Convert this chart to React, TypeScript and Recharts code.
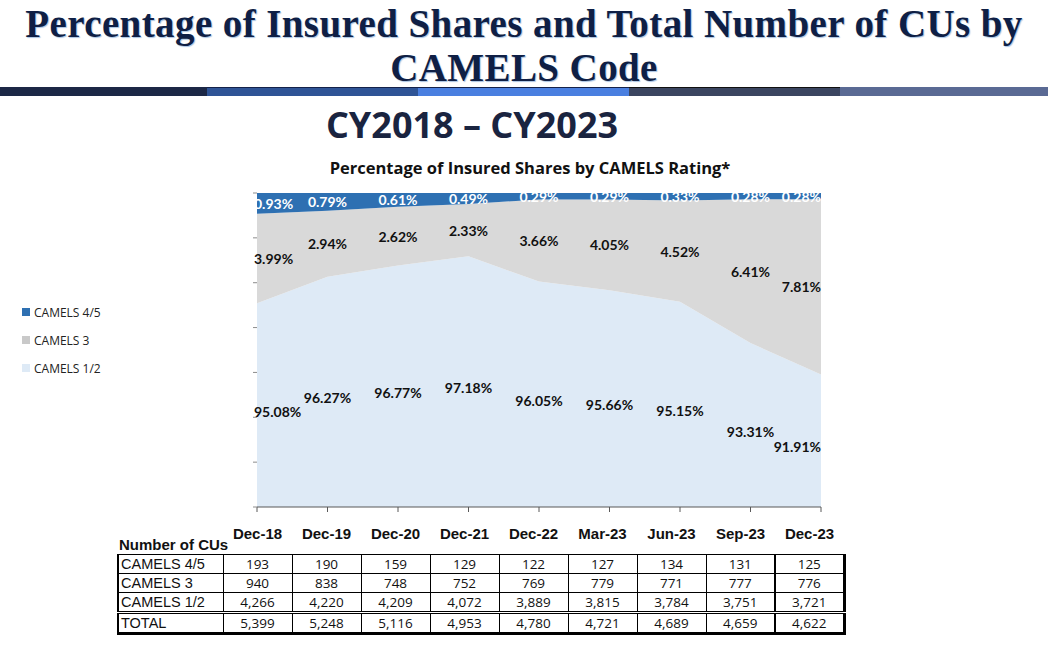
import React from 'react';
import { AreaChart, Area, XAxis, YAxis, Legend, LabelList } from 'recharts';

const periods = ['Dec-18', 'Dec-19', 'Dec-20', 'Dec-21', 'Dec-22', 'Mar-23', 'Jun-23', 'Sep-23', 'Dec-23'];

// share of insured shares, percent
const camels12Pct = [95.08, 96.27, 96.77, 97.18, 96.05, 95.66, 95.15, 93.31, 91.91];
const camels3Pct = [3.99, 2.94, 2.62, 2.33, 3.66, 4.05, 4.52, 6.41, 7.81];
const camels45Pct = [0.93, 0.79, 0.61, 0.49, 0.29, 0.29, 0.33, 0.28, 0.28];

const yTicks = [86, 88, 90, 92, 94, 96, 98, 100];

// number of credit unions
const cu45 = [193, 190, 159, 129, 122, 127, 134, 131, 125];
const cu3 = [940, 838, 748, 752, 769, 779, 771, 777, 776];
const cu12 = [4266, 4220, 4209, 4072, 3889, 3815, 3784, 3751, 3721];
const cuTotal = [5399, 5248, 5116, 4953, 4780, 4721, 4689, 4659, 4622];

const tableRows = [
  { label: 'CAMELS 4/5', values: cu45 },
  { label: 'CAMELS 3', values: cu3 },
  { label: 'CAMELS 1/2', values: cu12 },
  { label: 'TOTAL', values: cuTotal },
];

const chartData = periods.map((p, i) => ({
  period: p,
  c12: camels12Pct[i],
  c3: camels3Pct[i],
  c45: camels45Pct[i],
}));

const COLORS = { c45: '#2e70b2', c3: '#d9d9d9', c12: '#deeaf6' };

const Y_MIN = 86;
const Y_MAX = 100;
const CHART_W = 850;
const CHART_H = 337;
const MARGIN = { top: 10, right: 29, bottom: 3, left: 247 };
const X_AXIS_H = 10;
const PLOT_H = CHART_H - MARGIN.top - MARGIN.bottom - X_AXIS_H;
const PX_PER_UNIT = PLOT_H / (Y_MAX - Y_MIN);

const fmt = (n: number) => n.toLocaleString('en-US');
const noTick = () => <g />;

// label in the middle of each band; edge labels pulled inside like Excel does
const makeLabel = (values: number[], color: string, floor: number, nudge = 0) => (props: any) => {
  const { x, y, index } = props;
  const v = values[index];
  const band = (v - floor) * PX_PER_UNIT;
  const last = values.length - 1;
  const anchor = index === 0 ? 'start' : index === last ? 'end' : 'middle';
  const dx = index === 0 ? -3 : 0;
  return (
    <text
      x={x + dx}
      y={y + band / 2 + nudge}
      textAnchor={anchor}
      dominantBaseline="central"
      fill={color}
      fontSize={14}
      fontWeight={700}
      fontFamily="Lato, 'Open Sans', sans-serif"
    >
      {v.toFixed(2)}%
    </text>
  );
};

const legendItems = [
  { name: 'CAMELS 4/5', color: COLORS.c45 },
  { name: 'CAMELS 3', color: '#c9c9c9' },
  { name: 'CAMELS 1/2', color: COLORS.c12 },
];

const renderLegend = () => (
  <div>
    {legendItems.map((it) => (
      <div key={it.name} style={{ display: 'flex', alignItems: 'center', height: 28 }}>
        <span style={{ width: 8, height: 8, background: it.color, marginRight: 4, display: 'inline-block' }} />
        <span style={{ fontFamily: "'Open Sans', sans-serif", fontSize: 12, color: '#222' }}>{it.name}</span>
      </div>
    ))}
  </div>
);

const cellBase: React.CSSProperties = {
  border: '1px solid #000',
  padding: 0,
  height: 18,
  fontFamily: "'Open Sans', sans-serif",
  fontSize: 13.5,
  textAlign: 'center',
  color: '#111',
};

export default function App() {
  return (
    <div style={{ position: 'absolute', left: 0, top: 0, width: 1048, height: 647, background: '#fff', overflow: 'hidden' }}>
      <div
        style={{
          position: 'absolute',
          left: 0,
          top: 2,
          width: 1048,
          textAlign: 'center',
          fontFamily: "'Liberation Serif', serif",
          fontWeight: 700,
          fontSize: 39,
          letterSpacing: 0.4,
          lineHeight: '44px',
          color: '#0f1f45',
          textShadow: '1px 1px 1px #a8c3e2',
        }}
      >
        Percentage of Insured Shares and Total Number of CUs by
        <br />
        CAMELS Code
      </div>

      <div style={{ position: 'absolute', left: 0, top: 87, width: 1048, height: 9, display: 'flex' }}>
        <div style={{ width: 207, background: '#1c2846' }} />
        <div style={{ width: 211, background: '#2f5496', borderTop: '1px solid #14224a' }} />
        <div style={{ width: 211, background: '#4a7fe0', borderTop: '1px solid #14224a' }} />
        <div style={{ width: 211, background: '#3b4560', borderTop: '1px solid #111' }} />
        <div style={{ width: 208, background: '#5a6a94' }} />
      </div>

      <div
        style={{
          position: 'absolute',
          left: 272,
          top: 100,
          width: 400,
          textAlign: 'center',
          fontFamily: "'Open Sans', sans-serif",
          fontWeight: 700,
          fontSize: 36,
          lineHeight: '50px',
          color: '#1a2440',
        }}
      >
        CY2018 – CY2023
      </div>

      <div
        style={{
          position: 'absolute',
          left: 280,
          top: 156,
          width: 500,
          textAlign: 'center',
          fontFamily: "'Open Sans', sans-serif",
          fontWeight: 700,
          fontSize: 16.5,
          lineHeight: '24px',
          color: '#111',
        }}
      >
        Percentage of Insured Shares by CAMELS Rating*
      </div>

      <div style={{ position: 'absolute', left: 0, top: 183 }}>
        <AreaChart width={CHART_W} height={CHART_H} data={chartData} margin={MARGIN}>
          <Legend
            layout="horizontal"
            verticalAlign="middle"
            align="center"
            content={renderLegend}
            wrapperStyle={{ left: 22, top: 115, width: 120, height: 90 }}
          />
          <Area
            type="linear"
            dataKey="c12"
            name="CAMELS 1/2"
            stackId="s"
            stroke="none"
            fill={COLORS.c12}
            fillOpacity={1}
            isAnimationActive={false}
          >
            <LabelList dataKey="c12" content={makeLabel(camels12Pct, '#111', Y_MIN, 6)} />
          </Area>
          <Area
            type="linear"
            dataKey="c3"
            name="CAMELS 3"
            stackId="s"
            stroke="none"
            fill={COLORS.c3}
            fillOpacity={1}
            isAnimationActive={false}
          >
            <LabelList dataKey="c3" content={makeLabel(camels3Pct, '#111', 0)} />
          </Area>
          <Area
            type="linear"
            dataKey="c45"
            name="CAMELS 4/5"
            stackId="s"
            stroke="none"
            fill={COLORS.c45}
            fillOpacity={1}
            isAnimationActive={false}
          >
            <LabelList dataKey="c45" content={makeLabel(camels45Pct, '#fff', 0)} />
          </Area>
          <XAxis
            dataKey="period"
            tick={noTick}
            height={X_AXIS_H}
            tickSize={5}
            axisLine={{ stroke: '#595959' }}
            tickLine={{ stroke: '#595959' }}
          />
          <YAxis
            type="number"
            domain={[Y_MIN, Y_MAX]}
            allowDataOverflow
            ticks={yTicks}
            tick={noTick}
            width={10}
            tickSize={4}
            axisLine={false}
            tickLine={{ stroke: '#8c8c8c' }}
          />
        </AreaChart>
      </div>

      <table
        style={{
          position: 'absolute',
          left: 117,
          top: 522,
          width: 728,
          borderCollapse: 'collapse',
          tableLayout: 'fixed',
        }}
      >
        <colgroup>
          <col style={{ width: 105 }} />
          {periods.map((p) => (
            <col key={p} style={{ width: 69 }} />
          ))}
        </colgroup>
        <thead>
          <tr style={{ height: 32 }}>
            <th
              style={{
                verticalAlign: 'bottom',
                textAlign: 'left',
                padding: '0 0 1px 1px',
                fontFamily: "'Liberation Sans', Arial, sans-serif",
                fontSize: 15,
                fontWeight: 700,
                whiteSpace: 'nowrap',
                color: '#111',
              }}
            >
              Number of CUs
            </th>
            {periods.map((p) => (
              <th
                key={p}
                style={{
                  verticalAlign: 'top',
                  padding: '3px 0 0 0',
                  fontFamily: "'Liberation Sans', Arial, sans-serif",
                  fontSize: 15,
                  fontWeight: 700,
                  textAlign: 'center',
                  color: '#111',
                }}
              >
                {p}
              </th>
            ))}
          </tr>
        </thead>
        <tbody>
          {tableRows.map((row, r) => {
            const isTotal = r === tableRows.length - 1;
            const rowBorder: React.CSSProperties = isTotal
              ? { borderTop: '3px double #000', borderBottom: '3px solid #000' }
              : {};
            return (
              <tr key={row.label}>
                <td
                  style={{
                    ...cellBase,
                    ...rowBorder,
                    borderLeft: '2px solid #000',
                    textAlign: 'left',
                    paddingLeft: 2,
                    fontFamily: "'Liberation Sans', Arial, sans-serif",
                    fontSize: 14.5,
                  }}
                >
                  {row.label}
                </td>
                {row.values.map((v, i) => (
                  <td
                    key={i}
                    style={{
                      ...cellBase,
                      ...rowBorder,
                      ...(i === row.values.length - 1
                        ? { borderLeft: '2px solid #000', borderRight: '3px solid #000' }
                        : {}),
                    }}
                  >
                    {fmt(v)}
                  </td>
                ))}
              </tr>
            );
          })}
        </tbody>
      </table>
    </div>
  );
}
